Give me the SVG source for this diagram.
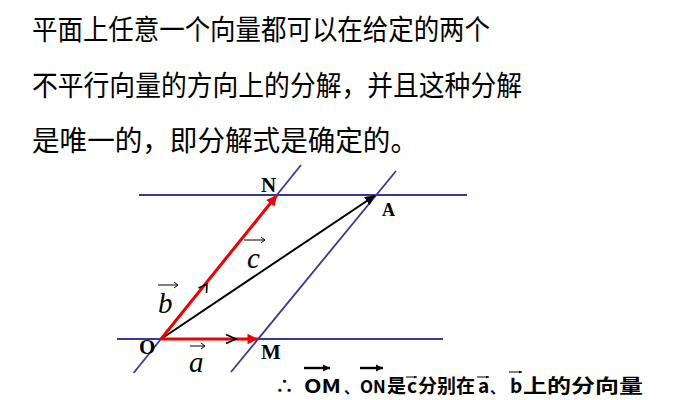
<svg xmlns="http://www.w3.org/2000/svg" width="695" height="400" viewBox="0 0 695 400">
<defs>
<style>
.cn{font-family:"Noto Sans CJK SC","Noto Sans",sans-serif;font-size:28px;fill:#000}
.bt{font-family:"Noto Sans CJK SC","Liberation Sans",sans-serif;font-size:19px;font-weight:bold;fill:#000}
.pt{font-family:"Liberation Serif",serif;font-weight:bold;font-size:21px;fill:#000}
.vl{font-family:"Liberation Serif",serif;font-style:italic;font-size:29px;fill:#000}
.blue{stroke:#38389a;stroke-width:1.8;fill:none}
.red{stroke:#ee0000;stroke-width:3;fill:none}
.blk{stroke:#000;stroke-width:2;fill:none}
.va{stroke:#000;stroke-width:1;fill:none}
.ba{stroke:#000;stroke-width:2.4;fill:none}
</style>
<marker id="ahr" viewBox="0 0 10 10" refX="10" refY="5" markerWidth="4" markerHeight="3.5" orient="auto" markerUnits="strokeWidth">
<path d="M0,0 L10,5 L0,10 z" fill="#ee0000"/>
</marker>
<marker id="ahk" viewBox="0 0 10 10" refX="10" refY="5" markerWidth="5" markerHeight="5" orient="auto" markerUnits="strokeWidth">
<path d="M0,0 L10,5 L0,10 z" fill="#000"/>
</marker>
<marker id="ahb" viewBox="0 0 10 10" refX="10" refY="5" markerWidth="3" markerHeight="3" orient="auto" markerUnits="strokeWidth">
<path d="M0,0 L10,5 L0,10 z" fill="#000"/>
</marker>
</defs>
<rect width="695" height="400" fill="#fff"/>

<g id="title">
<text class="cn" x="32" y="40" textLength="458" lengthAdjust="spacingAndGlyphs">平面上任意一个向量都可以在给定的两个</text>
<text class="cn" x="32" y="96" textLength="490" lengthAdjust="spacingAndGlyphs">不平行向量的方向上的分解，并且这种分解</text>
<text class="cn" x="32" y="151" textLength="386" lengthAdjust="spacingAndGlyphs">是唯一的，即分解式是确定的。</text>
</g>

<g id="lines">
<line class="blue" x1="139" y1="195" x2="467" y2="195"/>
<line class="blue" x1="117" y1="339" x2="443" y2="339"/>
<line class="blue" x1="133.6" y1="373" x2="301" y2="165"/>
<line class="blue" x1="231" y1="372" x2="396" y2="171"/>
</g>

<g id="connectors">
<line class="blk" x1="161" y1="339" x2="375" y2="195.5" marker-end="url(#ahk)"/>
<line class="red" x1="161" y1="339" x2="258" y2="339" marker-end="url(#ahr)"/>
<line class="red" x1="161" y1="339" x2="277" y2="195" marker-end="url(#ahr)"/>
<path d="M226,334.5 L236,339 L226,343.5" stroke="#000" stroke-width="1.6" fill="none"/>
<path d="M198.5,288 L207,284 L206.5,293" stroke="#000" stroke-width="1.6" fill="none"/>
</g>

<g id="node-O"><text class="pt" x="139" y="354">O</text></g>
<g id="node-M"><text class="pt" x="261" y="359">M</text></g>
<g id="node-N"><text class="pt" x="261" y="192">N</text></g>
<g id="node-A"><text class="pt" x="382" y="216" style="font-size:18px">A</text></g>

<g id="label-c">
<text class="vl" x="247" y="268">c</text>
<path class="va" d="M244,240 L265,240 M261,237 L265,240 L261,243"/>
</g>
<g id="label-b">
<text class="vl" x="158" y="313">b</text>
<path class="va" d="M158,285 L178,285 M174,282 L178,285 L174,288"/>
</g>
<g id="label-a">
<text class="vl" x="189" y="372">a</text>
<path class="va" d="M190,346 L205,346 M201,343 L205,346 L201,349"/>
</g>

<g id="conclusion">
<text class="bt" x="275" y="393">∴</text>
<text class="bt" x="304" y="393" textLength="37" lengthAdjust="spacingAndGlyphs">OM</text>
<text class="bt" x="344" y="393" style="font-size:15px">、</text>
<text class="bt" x="360" y="393" style="font-size:17px">ON</text>
<text class="bt" x="387" y="393">是</text>
<text class="bt" x="407" y="393">c</text>
<text class="bt" x="418" y="393">分别在</text>
<text class="bt" x="478" y="393">a</text>
<text class="bt" x="490" y="393" style="font-size:15px">、</text>
<text class="bt" x="510" y="393">b</text>
<text class="bt" x="523" y="393" textLength="120" lengthAdjust="spacingAndGlyphs">上的分向量</text>
<line class="ba" x1="304" y1="368" x2="330" y2="368" marker-end="url(#ahb)"/>
<line class="ba" x1="360" y1="368" x2="383" y2="368" marker-end="url(#ahb)"/>
<line class="va" x1="406" y1="377" x2="417" y2="377" stroke-width="1.6" marker-end="url(#ahb)"/>
<line class="va" x1="477" y1="377" x2="489" y2="377" stroke-width="1.6" marker-end="url(#ahb)"/>
<line class="va" x1="509" y1="372" x2="522" y2="372" stroke-width="1.6" marker-end="url(#ahb)"/>
</g>
</svg>
